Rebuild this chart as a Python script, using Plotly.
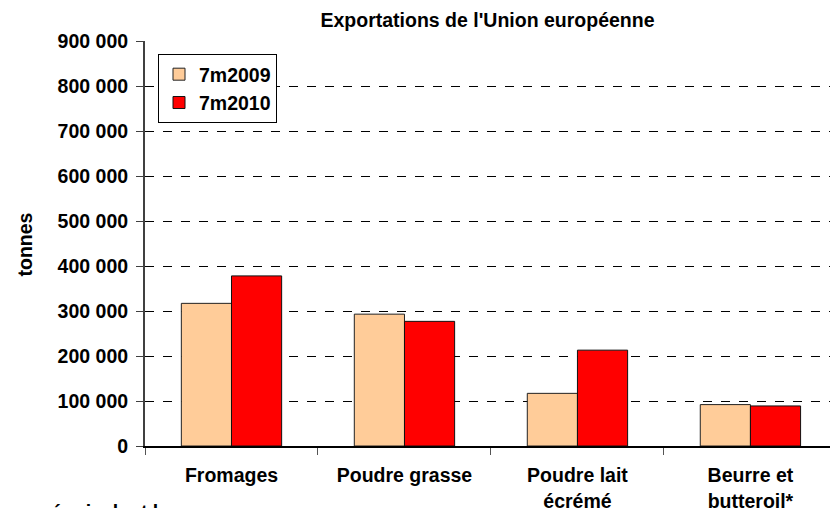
import plotly.graph_objects as go

categories = ["Fromages", "Poudre grasse", "Poudre lait<br>écrémé", "Beurre et<br>butteroil*"]
series_names = ["7m2009", "7m2010"]
values_2009 = [317000, 293000, 117000, 92000]
values_2010 = [378000, 277000, 213000, 89000]
y_tickvals = [0, 100000, 200000, 300000, 400000, 500000, 600000, 700000, 800000, 900000]
y_ticktext = ["0", "100 000", "200 000", "300 000", "400 000", "500 000",
              "600 000", "700 000", "800 000", "900 000"]
title_text = "Exportations de l'Union européenne"
y_title = "tonnes"
note_text = "équivalent beurre"

FONT = "Liberation Sans, Arial, sans-serif"
FS = 19.5
W, H = 830, 508
L, R, T, B = 145, 0, 41, 62
pw, ph = W - L - R, H - T - B

def px_x(x):
    return (x - L) / pw

def px_y(y):
    return (H - B - y) / ph

def f(size=FS):
    return dict(family=FONT, size=size, color="black", weight="bold")

fig = go.Figure()
fig.add_trace(go.Bar(
    name=series_names[0], x=categories, y=values_2009,
    marker=dict(color="#FFCC99", line=dict(color="#222222", width=1)),
))
fig.add_trace(go.Bar(
    name=series_names[1], x=categories, y=values_2010,
    marker=dict(color="#FF0000", line=dict(color="#111111", width=1)),
))

fig.update_layout(
    width=W, height=H, autosize=False,
    margin=dict(l=L, r=R, t=T, b=B, pad=0, autoexpand=False),
    paper_bgcolor="white", plot_bgcolor="white",
    barmode="group", bargap=0.42, bargroupgap=0,
    font=f(),
    title=dict(text=title_text, x=0.5, xref="paper", xanchor="center",
               y=1 - 20 / H, yref="container", yanchor="middle",
               font=f()),
    showlegend=True,
    legend=dict(x=px_x(158), y=px_y(54), xanchor="left", yanchor="top",
                bgcolor="white", bordercolor="black", borderwidth=1,
                entrywidth=80, entrywidthmode="pixels",
                font=f()),
    xaxis=dict(
        type="category", range=[-0.5, 3.46], automargin=False,
        showline=True, linecolor="black", linewidth=1.5,
        ticks="outside", tickson="boundaries", ticklen=7, tickcolor="#555555",
        showgrid=False, zeroline=False,
        ticklabelstandoff=11,
        tickfont=f(),
    ),
    yaxis=dict(
        range=[0, 900000], tickvals=y_tickvals, ticktext=y_ticktext,
        automargin=False,
        showline=True, linecolor="#404040", linewidth=2,
        ticks="outside", ticklen=7, tickcolor="#404040",
        showgrid=True, gridcolor="black", griddash="dash", gridwidth=1,
        zeroline=False,
        ticklabelstandoff=4,
        tickfont=f(),
    ),
    annotations=[
        dict(text=y_title, textangle=-90, xref="paper", yref="paper",
             x=px_x(24.5), y=px_y(245), xanchor="center", yanchor="middle",
             showarrow=False, font=f()),
        dict(text=note_text, xref="paper", yref="paper",
             x=px_x(49), y=px_y(499), xanchor="left", yanchor="top",
             showarrow=False, font=f()),
    ],
)

fig.write_html("out.html", config={"displayModeBar": False},
               post_script="document.body.style.margin='0';")
